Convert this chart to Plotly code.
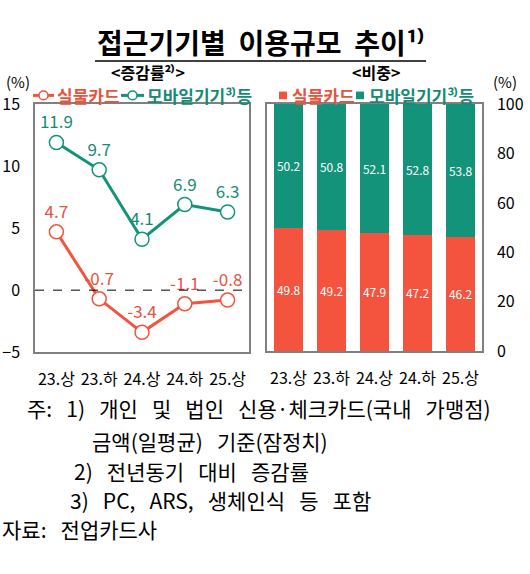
import plotly.graph_objects as go

# data
periods = ["23.상", "23.하", "24.상", "24.하", "25.상"]
growth_card = [4.7, -0.7, -3.4, -1.1, -0.8]
growth_mobile = [11.9, 9.7, 4.1, 6.9, 6.3]
share_card = [49.8, 49.2, 47.9, 47.2, 46.2]
share_mobile = [50.2, 50.8, 52.1, 52.8, 53.8]

left_ticks = [-5, 0, 5, 10, 15]
right_ticks = [0, 20, 40, 60, 80, 100]

SP = "\u00a0\u00a0\u00a0"
notes = [
    (f"주:{SP}1){SP}개인{SP}및{SP}법인{SP}신용·체크카드(국내{SP}가맹점)", 25, 412),
    (f"금액(일평균){SP}기준(잠정치)", 90, 447),
    (f"2){SP}전년동기{SP}대비{SP}증감률", 72, 477.5),
    (f"3){SP}PC,{SP}ARS,{SP}생체인식{SP}등{SP}포함", 68, 508),
    (f"자료:{SP}전업카드사", 0, 538.5),
]

RED = "#F4533D"
GREEN = "#12937A"
RED_TXT = "#E3553F"
GREEN_TXT = "#168B73"
FONT = "Noto Sans CJK KR"
W, H = 530, 574


def px(x):
    return x / W


def py(y):
    return 1 - y / H


fig = go.Figure()

fig.add_trace(
    go.Scatter(
        x=periods, y=growth_mobile, mode="lines+markers+text",
        line=dict(color=GREEN, width=3),
        marker=dict(size=14, color="white", line=dict(color=GREEN, width=1.5)),
        text=[f"{v:.1f}" for v in growth_mobile], textposition="top center",
        textfont=dict(color=GREEN_TXT, size=17, family=FONT),
        xaxis="x", yaxis="y", showlegend=False, cliponaxis=False,
    )
)
fig.add_trace(
    go.Scatter(
        x=periods, y=growth_card, mode="lines+markers+text",
        line=dict(color=RED, width=3),
        marker=dict(size=14, color="white", line=dict(color=RED, width=1.5)),
        text=[f"{v:.1f}" for v in growth_card], textposition="top center",
        textfont=dict(color=RED_TXT, size=17, family=FONT),
        xaxis="x", yaxis="y", showlegend=False, cliponaxis=False,
    )
)

fig.add_trace(
    go.Bar(
        x=periods, y=share_card, marker=dict(color=RED, line=dict(width=0)),
        text=[f"{v:.1f}" for v in share_card], textposition="inside",
        insidetextanchor="middle", textangle=0,
        textfont=dict(color="white", size=17, family=FONT),
        xaxis="x2", yaxis="y2", showlegend=False,
    )
)
fig.add_trace(
    go.Bar(
        x=periods, y=share_mobile, marker=dict(color=GREEN, line=dict(width=0)),
        text=[f"{v:.1f}" for v in share_mobile], textposition="inside",
        insidetextanchor="middle", textangle=0,
        textfont=dict(color="white", size=17, family=FONT),
        xaxis="x2", yaxis="y2", showlegend=False,
    )
)

axis_common = dict(
    showline=True, linecolor="#808080", linewidth=1.5, mirror=True,
    showgrid=False, zeroline=False, ticks="",
    tickfont=dict(size=16, color="black", family=FONT),
)

fig.update_layout(
    width=W, height=H,
    margin=dict(l=0, r=0, t=0, b=0),
    paper_bgcolor="white", plot_bgcolor="white",
    font=dict(family=FONT, color="black"),
    barmode="stack", bargap=0.32,
    xaxis=dict(domain=[px(35), px(249)], range=[-0.5, 4.5], anchor="y",
               ticklabelstandoff=12, **axis_common),
    yaxis=dict(domain=[py(354), py(95)], range=[-5, 15], tickvals=left_ticks,
               anchor="x", ticklabelstandoff=10, **axis_common),
    xaxis2=dict(domain=[px(267), px(482)], range=[-0.5, 4.5], anchor="y2",
                ticklabelstandoff=12, **axis_common),
    yaxis2=dict(domain=[py(353), py(95)], range=[0, 100], tickvals=right_ticks,
                anchor="x2", side="right", ticklabelstandoff=10, **axis_common),
)

LEG_Y = 86
shapes = [
    # dashed zero line
    dict(type="line", xref="x domain", yref="y", x0=0, x1=1, y0=0, y1=0,
         line=dict(color="black", width=1, dash="dash")),
    # title underline
    dict(type="line", xref="paper", yref="paper", x0=px(95), x1=px(426),
         y0=py(50), y1=py(50), line=dict(color="black", width=1.5)),
    # legend symbols, line chart
    dict(type="line", xref="paper", yref="paper", x0=px(33), x1=px(54),
         y0=py(LEG_Y), y1=py(LEG_Y), line=dict(color=RED, width=3)),
    dict(type="circle", xref="paper", yref="paper", x0=px(39), x1=px(48),
         y0=py(LEG_Y + 4.5), y1=py(LEG_Y - 4.5), fillcolor="white",
         line=dict(color=RED, width=1.5)),
    dict(type="line", xref="paper", yref="paper", x0=px(121), x1=px(144),
         y0=py(LEG_Y), y1=py(LEG_Y), line=dict(color=GREEN, width=3)),
    dict(type="circle", xref="paper", yref="paper", x0=px(128), x1=px(137),
         y0=py(LEG_Y + 4.5), y1=py(LEG_Y - 4.5), fillcolor="white",
         line=dict(color=GREEN, width=1.5)),
    # legend symbols, bar chart
    dict(type="rect", xref="paper", yref="paper", x0=px(279), x1=px(287),
         y0=py(LEG_Y + 4), y1=py(LEG_Y - 4), fillcolor=RED, line=dict(width=0)),
    dict(type="rect", xref="paper", yref="paper", x0=px(356), x1=px(364),
         y0=py(LEG_Y + 4), y1=py(LEG_Y - 4), fillcolor=GREEN, line=dict(width=0)),
]

annotations = [
    dict(text="<b>접근기기별  이용규모  추이¹⁾</b>", x=px(260), y=py(30),
         font=dict(size=28)),
    dict(text="<b>&lt;증감률²⁾&gt;</b>", x=px(148), y=py(62), font=dict(size=16)),
    dict(text="<b>&lt;비중&gt;</b>", x=px(376), y=py(62), font=dict(size=16)),
    dict(text="(%)", x=px(18), y=py(72), font=dict(size=15)),
    dict(text="(%)", x=px(505), y=py(72), font=dict(size=15)),
    dict(text="<b>실물카드</b>", x=px(55), y=py(LEG_Y), xanchor="left",
         font=dict(size=17, color=RED_TXT)),
    dict(text="<b>모바일기기³⁾등</b>", x=px(145), y=py(LEG_Y), xanchor="left",
         font=dict(size=17, color=GREEN_TXT)),
    dict(text="<b>실물카드</b>", x=px(290), y=py(LEG_Y), xanchor="left",
         font=dict(size=17, color=RED_TXT)),
    dict(text="<b>모바일기기³⁾등</b>", x=px(367), y=py(LEG_Y), xanchor="left",
         font=dict(size=17, color=GREEN_TXT)),
]
for text, x, y in notes:
    annotations.append(dict(text=text, x=px(x), y=py(y), xanchor="left",
                            font=dict(size=21)))

for a in annotations:
    a.setdefault("xanchor", "center")
    a.update(xref="paper", yref="paper", showarrow=False, yanchor="middle")

fig.update_layout(shapes=shapes, annotations=annotations)

fig.write_html(
    "out.html",
    config={"displayModeBar": False},
    post_script="document.body.style.margin='0';",
)
